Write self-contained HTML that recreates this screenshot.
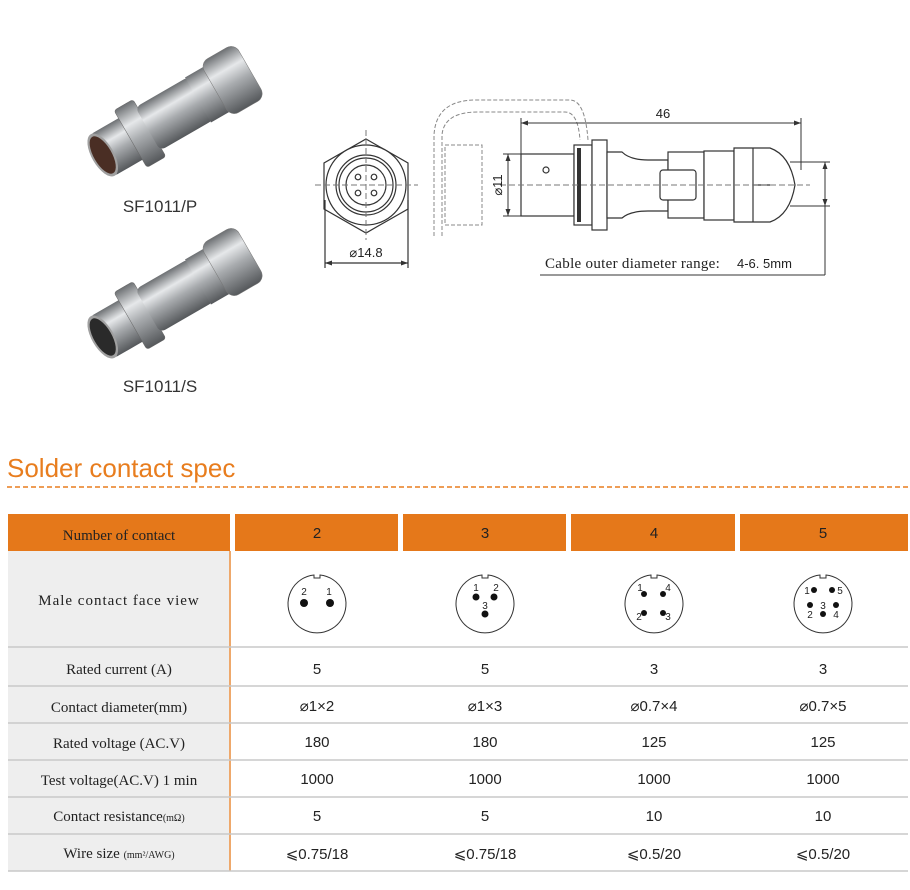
<!DOCTYPE html>
<html><head><meta charset="utf-8"><style>
body{margin:0;background:#fff;width:910px;height:890px;overflow:hidden}
svg{display:block}
.s{font-family:"Liberation Serif",serif;font-size:15px;fill:#222}
.n{font-family:"Liberation Sans",sans-serif;font-size:15px;fill:#222}
.d{font-family:"Liberation Sans",sans-serif;font-size:13px;fill:#222}
</style></head><body>
<svg width="910" height="890" viewBox="0 0 910 890" xmlns="http://www.w3.org/2000/svg">
<defs>
<linearGradient id="m" x1="0" y1="0" x2="0" y2="1">
<stop offset="0" stop-color="#6d7073"/><stop offset="0.3" stop-color="#e6e8ea"/><stop offset="0.55" stop-color="#a9acaf"/><stop offset="1" stop-color="#55585b"/>
</linearGradient>
<g id="conn">
<rect x="-80" y="-24" width="40" height="48" rx="3" fill="url(#m)"/>
<rect x="-48" y="-33" width="22" height="66" rx="3" fill="url(#m)" stroke="#666" stroke-width="0.5"/>
<rect x="-28" y="-25" width="62" height="50" rx="6" fill="url(#m)"/>
<rect x="30" y="-26" width="22" height="52" fill="url(#m)"/>
<rect x="50" y="-31" width="40" height="62" rx="9" fill="url(#m)" stroke="#777" stroke-width="0.5"/>
</g>
</defs>
<g transform="translate(172,115) rotate(-30)"><use href="#conn"/><ellipse cx="-80" cy="0" rx="11" ry="24" fill="#a0a0a0"/><ellipse cx="-80" cy="0" rx="9" ry="21" fill="#4a2e24"/></g>
<text x="160" y="212" text-anchor="middle" font-family="Liberation Sans,sans-serif" font-size="17" fill="#333">SF1011/P</text>
<g transform="translate(172,297) rotate(-30)"><use href="#conn"/><ellipse cx="-80" cy="0" rx="11" ry="24" fill="#a0a0a0"/><ellipse cx="-80" cy="0" rx="9" ry="21" fill="#2a2a2a"/></g>
<text x="160" y="392" text-anchor="middle" font-family="Liberation Sans,sans-serif" font-size="17" fill="#333">SF1011/S</text>

<!-- front view drawing -->
<g stroke="#333" fill="none" stroke-width="1.2">
<polygon points="366,139 408,163 408,209 366,233 324,209 324,163" fill="#fff"/>
<circle cx="366" cy="185" r="40" fill="#fff"/>
<circle cx="366" cy="185" r="30"/>
<circle cx="366" cy="185" r="27"/>
<circle cx="366" cy="185" r="20"/>
<circle cx="358" cy="177" r="2.8"/><circle cx="374" cy="177" r="2.8"/>
<circle cx="358" cy="193" r="2.8"/><circle cx="374" cy="193" r="2.8"/>
<line x1="325" y1="200" x2="325" y2="268"/><line x1="408" y1="200" x2="408" y2="268"/>
<line x1="325" y1="263" x2="408" y2="263"/>
</g>
<path d="M325,263 l7,-2.5 v5 z M408,263 l-7,-2.5 v5 z" fill="#333"/>
<line x1="315" y1="185" x2="418" y2="185" stroke="#777" stroke-dasharray="6,3"/>
<line x1="366" y1="130" x2="366" y2="240" stroke="#777" stroke-dasharray="6,3"/>
<text x="366" y="257" text-anchor="middle" class="d">⌀14.8</text>

<!-- side view drawing -->
<g stroke="#888" fill="none" stroke-dasharray="4,2">
<path d="M434,236 V135 Q436,100 476,100 H570 Q585,100 588,140"/>
<path d="M442,236 V135 Q444,112 478,112 H565 Q578,112 580,140"/>
<rect x="445" y="145" width="37" height="80"/>
</g>
<g stroke="#333" fill="#fff" stroke-width="1.2">
<rect x="521" y="154" width="53" height="62"/>
<rect x="574" y="145" width="18" height="80"/>
<rect x="592" y="140" width="15" height="90"/>
<path d="M607,152 H622 Q630,160 648,160 H668 V211 H648 Q630,211 622,218 H607 Z"/>
<rect x="668" y="152" width="36" height="66"/>
<rect x="704" y="151" width="30" height="69"/>
<path d="M734,148 H770 Q790,155 795,185 Q790,215 770,222 H734 Z"/>
<rect x="660" y="170" width="36" height="30" rx="3"/>
<line x1="753" y1="148" x2="753" y2="222"/><line x1="753" y1="185" x2="770" y2="185"/>
<circle cx="546" cy="170" r="3"/>
</g>
<rect x="577" y="148" width="4" height="74" fill="#333"/>
<line x1="500" y1="185" x2="810" y2="185" stroke="#777" stroke-dasharray="6,3"/>
<g stroke="#333" stroke-width="1">
<line x1="521" y1="118" x2="521" y2="154"/><line x1="801" y1="118" x2="801" y2="170"/>
<line x1="521" y1="123" x2="801" y2="123"/>
<line x1="503" y1="154" x2="521" y2="154"/><line x1="503" y1="216" x2="521" y2="216"/>
<line x1="508" y1="154" x2="508" y2="216"/>
<line x1="790" y1="162" x2="830" y2="162"/><line x1="790" y1="206" x2="830" y2="206"/>
<line x1="825" y1="162" x2="825" y2="275"/>
<line x1="540" y1="275" x2="825" y2="275"/>
</g>
<path d="M521,123 l7,-2.5 v5 z M801,123 l-7,-2.5 v5 z M508,154 l-2.5,7 h5 z M508,216 l-2.5,-7 h5 z M825,162 l-2.5,7 h5 z M825,206 l-2.5,-7 h5 z" fill="#333"/>
<text x="663" y="118" text-anchor="middle" class="d" font-size="14">46</text>
<text x="502" y="185" text-anchor="middle" class="d" transform="rotate(-90 502 185)">⌀11</text>
<text x="545" y="268" class="s" font-size="14" letter-spacing="0.3">Cable outer  diameter range:</text>
<text x="737" y="268" class="d" font-size="14">4-6. 5mm</text>

<!-- heading -->
<text x="7" y="477" font-family="Liberation Sans,sans-serif" font-size="26" fill="#e87d1e">Solder contact spec</text>
<line x1="7" y1="487" x2="908" y2="487" stroke="#e87d1e" stroke-width="1.5" stroke-dasharray="5,3"/>

<!-- table -->
<rect x="8" y="514" width="222" height="37" fill="#e5781a"/>
<rect x="235" y="514" width="163" height="37" fill="#e5781a"/>
<rect x="403" y="514" width="163" height="37" fill="#e5781a"/>
<rect x="571" y="514" width="164" height="37" fill="#e5781a"/>
<rect x="740" y="514" width="168" height="37" fill="#e5781a"/>
<rect x="8" y="551" width="221" height="320" fill="#eeeeee"/>
<line x1="230" y1="551" x2="230" y2="871" stroke="#e88c3a" stroke-width="1.5"/>
<g stroke="#c8c8c8" stroke-width="1.5">
<line x1="8" y1="647" x2="908" y2="647"/><line x1="8" y1="686" x2="908" y2="686"/>
<line x1="8" y1="723" x2="908" y2="723"/><line x1="8" y1="760" x2="908" y2="760"/>
<line x1="8" y1="797" x2="908" y2="797"/><line x1="8" y1="834" x2="908" y2="834"/>
<line x1="8" y1="871" x2="908" y2="871"/>
</g>
<g text-anchor="middle">
<text x="119" y="540" class="s" font-size="16">Number of contact</text>
<text x="119" y="605" class="s" letter-spacing="1">Male  contact  face  view</text>
<text x="119" y="674" class="s">Rated current (A)</text>
<text x="119" y="712" class="s">Contact diameter(mm)</text>
<text x="119" y="748" class="s">Rated voltage (AC.V)</text>
<text x="119" y="785" class="s">Test voltage(AC.V) 1 min</text>
<text x="119" y="821" class="s">Contact resistance<tspan font-size="10">(mΩ)</tspan></text>
<text x="119" y="858" class="s">Wire size <tspan font-size="10">(mm²/AWG)</tspan></text>
</g>
<g text-anchor="middle">
<text x="317" y="538" class="n">2</text><text x="485" y="538" class="n">3</text><text x="654" y="538" class="n">4</text><text x="823" y="538" class="n">5</text>
<text x="317" y="674" class="n">5</text><text x="485" y="674" class="n">5</text><text x="654" y="674" class="n">3</text><text x="823" y="674" class="n">3</text>
<text x="317" y="711" class="n">⌀1×2</text><text x="485" y="711" class="n">⌀1×3</text><text x="654" y="711" class="n">⌀0.7×4</text><text x="823" y="711" class="n">⌀0.7×5</text>
<text x="317" y="747" class="n">180</text><text x="485" y="747" class="n">180</text><text x="654" y="747" class="n">125</text><text x="823" y="747" class="n">125</text>
<text x="317" y="784" class="n">1000</text><text x="485" y="784" class="n">1000</text><text x="654" y="784" class="n">1000</text><text x="823" y="784" class="n">1000</text>
<text x="317" y="821" class="n">5</text><text x="485" y="821" class="n">5</text><text x="654" y="821" class="n">10</text><text x="823" y="821" class="n">10</text>
<text x="317" y="859" class="n" font-size="17">⩽0.75/18</text><text x="485" y="859" class="n" font-size="17">⩽0.75/18</text><text x="654" y="859" class="n" font-size="17">⩽0.5/20</text><text x="823" y="859" class="n" font-size="17">⩽0.5/20</text>
</g>
<!-- face views -->
<g stroke="#333" fill="#fff" stroke-width="1">
<path d="M314,575 A29,29 0 1 0 320,575 V578 H314 Z"/>
<path d="M482,575 A29,29 0 1 0 488,575 V578 H482 Z"/>
<path d="M651,575 A29,29 0 1 0 657,575 V578 H651 Z"/>
<path d="M820,575 A29,29 0 1 0 826,575 V578 H820 Z"/>
</g>
<g fill="#111">
<circle cx="304" cy="603" r="4"/><circle cx="330" cy="603" r="4"/>
<circle cx="476" cy="597" r="3.5"/><circle cx="494" cy="597" r="3.5"/><circle cx="485" cy="614" r="3.5"/>
<circle cx="644" cy="594" r="3"/><circle cx="663" cy="594" r="3"/><circle cx="644" cy="613" r="3"/><circle cx="663" cy="613" r="3"/>
<circle cx="814" cy="590" r="3"/><circle cx="832" cy="590" r="3"/><circle cx="810" cy="605" r="3"/><circle cx="836" cy="605" r="3"/><circle cx="823" cy="614" r="3"/>
</g>
<g font-family="Liberation Sans,sans-serif" font-size="10" fill="#222" text-anchor="middle">
<text x="304" y="595">2</text><text x="329" y="595">1</text>
<text x="476" y="591">1</text><text x="496" y="591">2</text><text x="485" y="609">3</text>
<text x="640" y="591">1</text><text x="668" y="591">4</text><text x="639" y="620">2</text><text x="668" y="620">3</text>
<text x="807" y="594">1</text><text x="840" y="594">5</text><text x="823" y="609">3</text><text x="810" y="618">2</text><text x="836" y="618">4</text>
</g>
</svg>
</body></html>
